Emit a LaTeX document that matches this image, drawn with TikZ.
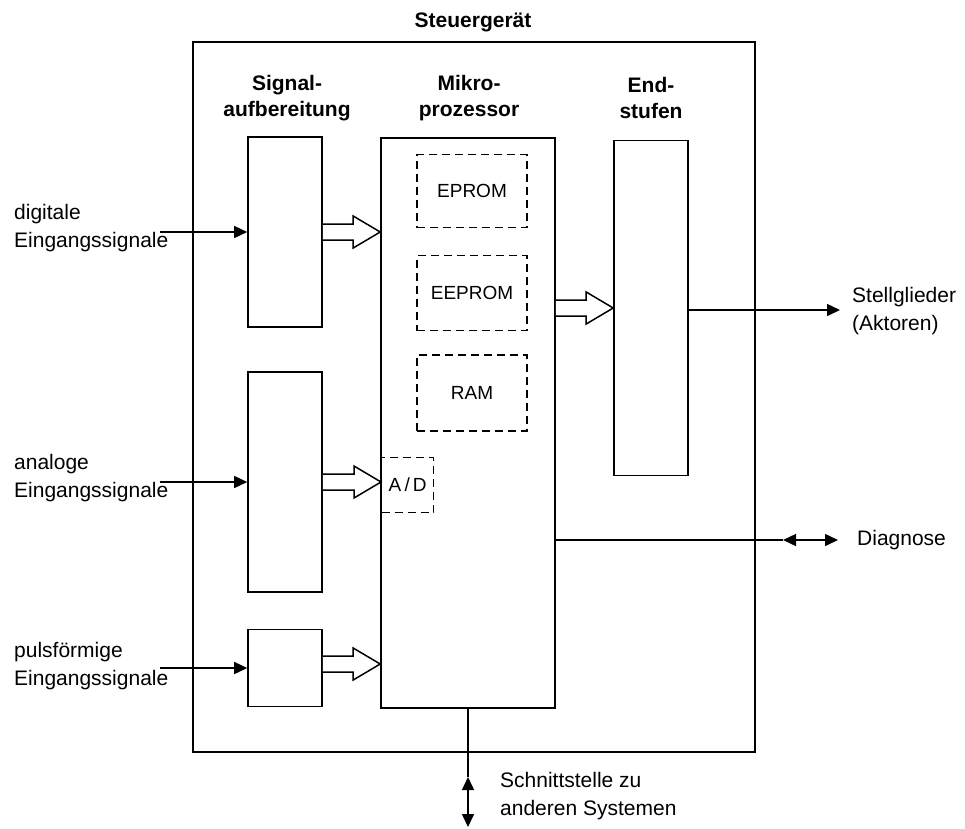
\documentclass[tikz,border=0pt]{standalone}
\usepackage{fontspec}
\setmainfont{Liberation Sans}
\usetikzlibrary{arrows.meta,calc}

\tikzset{
  box/.style={draw=black,line width=1.6pt,inner sep=0pt},
  dbox/.style={draw=black,line width=1.4pt,dash pattern=on 8pt off 5pt,inner sep=0pt,
    font=\fontsize{19}{24}\selectfont},
  head/.style={font=\fontsize{21}{26}\selectfont\bfseries,align=center},
  lbl/.style={align=left,inner sep=0pt},
  hollow/.style={draw=black,line width=1.5pt,fill=white,line join=miter},
  sig/.style={line width=1.5pt,-{Triangle[length=13pt,width=12pt]}},
  bisig/.style={line width=1.5pt,{Triangle[length=13pt,width=12pt]}-{Triangle[length=13pt,width=12pt]}}
}

% hollow arrow from #1 to the tip #2
\newcommand{\hollowarrow}[2]{%
  \path[hollow] ($(#1)+(0,-8)$) -- ($(#2)+(-27,-8)$) -- ($(#2)+(-27,-16)$)
    -- (#2) -- ($(#2)+(-27,16)$) -- ($(#2)+(-27,8)$) -- ($(#1)+(0,8)$);}

\begin{document}
\begin{tikzpicture}[x=1pt,y=-1pt,font=\fontsize{21}{28}\selectfont]
\useasboundingbox (0,0) rectangle (965,828);
% frame
\node[box,minimum width=562pt,minimum height=710pt] (ecu) at (474,397) {};
\node[head] (ecutitle) at (473,22) {Steuergerät};
% column heads
\node[head] (hsig) at (287,98) {Signal-\\aufbereitung};
\node[head] (hmic) at (469,98) {Mikro-\\prozessor};
\node[head] (hend) at (651,98) {End-\\stufen};
% blocks
\node[box,minimum width=74pt,minimum height=190pt] (sig1) at (285,232) {};
\node[box,minimum width=74pt,minimum height=220pt] (sig2) at (285,482) {};
\node[box,minimum width=74pt,minimum height=77pt] (sig3) at (285,668) {};
\node[box,minimum width=174pt,minimum height=570pt] (micro) at (468,423) {};
\node[box,minimum width=74pt,minimum height=335pt] (end) at (651,308) {};
% memories
\node[dbox,minimum width=110pt,minimum height=73pt] (eprom) at (472,191) {EPROM};
\node[dbox,minimum width=110pt,minimum height=75pt] (eeprom) at (472,293) {EEPROM};
\node[dbox,minimum width=110pt,minimum height=76pt] (ram) at (472,393) {RAM};
\node[dbox,minimum width=52pt,minimum height=55pt,anchor=west] (ad) at (381,485) {A\,/\,D};
% hollow arrows
\hollowarrow{sig1.east}{micro.west |- sig1.east}
\hollowarrow{sig2.east}{ad.west |- sig2.east}
\hollowarrow{$(sig3.east)+(0,-4)$}{$(micro.west |- sig3.east)+(0,-4)$}
\hollowarrow{micro.east |- end.west}{end.west}
% inputs
\node[lbl,anchor=west] (ldig) at (14,228) {digitale\\Eingangssignale};
\node[lbl,anchor=west] (lana) at (14,478) {analoge\\Eingangssignale};
\node[lbl,anchor=west] (lpuls) at (14,666) {pulsförmige\\Eingangssignale};
\coordinate (in1) at (160,232);
\coordinate (in2) at (160,482);
\coordinate (in3) at (160,668);
\draw[sig] (in1) -- (sig1.west);
\draw[sig] (in2) -- (sig2.west);
\draw[sig] (in3) -- (sig3.west);
% outputs
\coordinate (act) at (840,310);
\draw[sig] (end.east |- act) -- (act);
\node[lbl,anchor=west] (lact) at (852,311) {Stellglieder\\(Aktoren)};
\coordinate (diagl) at (783,540);
\coordinate (diagr) at (838,540);
\draw[line width=1.5pt] (micro.east |- diagl) -- (diagl);
\draw[bisig] (diagl) -- (diagr);
\node[lbl,anchor=west] (ldiag) at (857,540) {Diagnose};
\coordinate (bus1) at (468,777);
\coordinate (bus2) at (468,827);
\draw[line width=1.5pt] (micro.south) -- (bus1);
\draw[bisig] (bus1) -- (bus2);
\node[lbl,anchor=west] (lbus) at (500,796) {Schnittstelle zu\\anderen Systemen};
\end{tikzpicture}
\end{document}
